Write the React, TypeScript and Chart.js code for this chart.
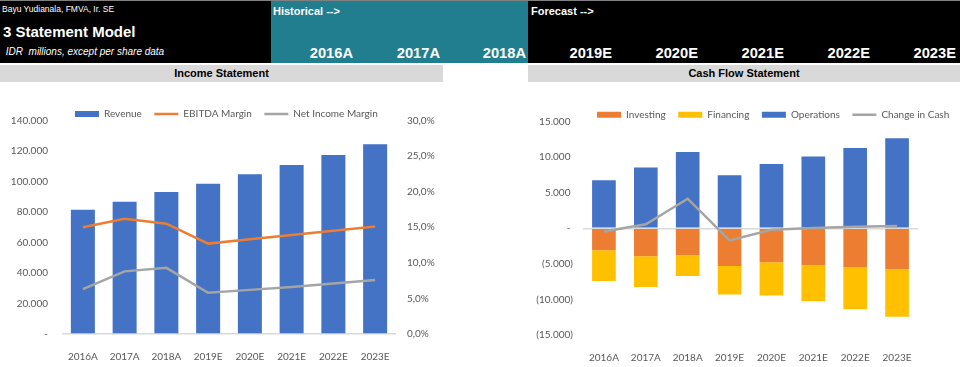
import React, { useEffect, useRef } from 'react';
import { Chart, registerables } from 'chart.js';

Chart.register(...registerables);

const years = ['2016A', '2017A', '2018A', '2019E', '2020E', '2021E', '2022E', '2023E'];

// Income statement
const revenue = [81500, 86700, 93100, 98600, 104700, 110800, 117400, 124400];
const ebitdaMargin = [15.0, 16.2, 15.5, 12.7, 13.3, 13.9, 14.5, 15.1];
const netIncomeMargin = [6.3, 8.8, 9.3, 5.8, 6.2, 6.6, 7.1, 7.6];

// Cash flow statement
const investing = [-3090, -3930, -3790, -5290, -4780, -5200, -5430, -5760];
const financing = [-4310, -4310, -2910, -4030, -4680, -5050, -5950, -6690];
const operations = [6750, 8520, 10720, 7440, 9030, 10070, 11280, 12640];
const changeInCash = [-450, 550, 4150, -1700, -200, 50, 200, 300];

// Tick labels
const revenueTickLabels = ['-', '20.000', '40.000', '60.000', '80.000', '100.000', '120.000', '140.000'];
const marginTickLabels = ['0,0%', '5,0%', '10,0%', '15,0%', '20,0%', '25,0%', '30,0%'];
const cashTickLabels = ['(15.000)', '(10.000)', '(5.000)', '- ', '5.000 ', '10.000 ', '15.000 '];

const BLUE = '#4472C4';
const ORANGE = '#ED7D31';
const GREY = '#A5A5A5';
const GOLD = '#FFC000';
const TEXT = '#595959';
const FONT = 'Lato, "Open Sans", sans-serif';
const LEGEND_FS = 10;

function legendPlacer(boxLeft: number, centerY: number, fs: number) {
  return {
    id: 'legendPlacer',
    afterLayout(chart: any) {
      const lg = chart.legend;
      if (!lg) return;
      const pad = lg.options.labels.padding;
      const h = lg.height;
      lg.left = boxLeft - pad;
      lg.right = chart.width + 200;
      lg.top = centerY - pad - fs / 2;
      lg.bottom = lg.top + h;
    },
  };
}

const zeroGrid = (c: any) => (c.tick && c.tick.value === 0 ? '#D9D9D9' : 'rgba(0,0,0,0)');

const legendOpts = {
  position: 'top' as const,
  align: 'start' as const,
  labels: {
    usePointStyle: true,
    pointStyleWidth: 24,
    boxHeight: 6,
    padding: 12.5,
    color: TEXT,
    font: { family: FONT, size: LEGEND_FS },
    sort: (a: any, b: any) => a.datasetIndex - b.datasetIndex,
  },
};

export default function App() {
  const leftRef = useRef<HTMLCanvasElement>(null);
  const rightRef = useRef<HTMLCanvasElement>(null);

  useEffect(() => {
    const c1 = new Chart(leftRef.current!, {
      type: 'bar',
      data: {
        labels: years,
        datasets: [
          {
            type: 'bar',
            label: 'Revenue',
            data: revenue,
            backgroundColor: BLUE,
            borderWidth: 0,
            pointStyle: 'rect',
            yAxisID: 'y',
            order: 2,
            barPercentage: 0.575,
            categoryPercentage: 1,
          } as any,
          {
            type: 'line',
            label: 'EBITDA Margin',
            data: ebitdaMargin,
            borderColor: ORANGE,
            backgroundColor: ORANGE,
            borderWidth: 2.5,
            pointRadius: 0,
            pointStyle: 'line',
            tension: 0,
            yAxisID: 'y1',
            order: 1,
          } as any,
          {
            type: 'line',
            label: 'Net Income Margin',
            data: netIncomeMargin,
            borderColor: GREY,
            backgroundColor: GREY,
            borderWidth: 2.5,
            pointRadius: 0,
            pointStyle: 'line',
            tension: 0,
            yAxisID: 'y1',
            order: 1,
          } as any,
        ],
      },
      options: {
        responsive: false,
        animation: false,
        devicePixelRatio: 1,
        layout: { padding: 0 },
        plugins: {
          legend: legendOpts as any,
          tooltip: { enabled: false },
        },
        scales: {
          x: {
            grid: { display: false },
            border: { display: false },
            ticks: { color: TEXT, font: { family: FONT, size: 10 }, padding: 9, maxRotation: 0 },
            afterFit: (s: any) => { s.height = 33; },
          },
          y: {
            position: 'left',
            min: 0,
            max: 140000,
            grid: { color: zeroGrid, drawTicks: false, lineWidth: 1.5 },
            border: { display: false },
            ticks: {
              stepSize: 20000,
              color: TEXT,
              font: { family: FONT, size: 10 },
              padding: 14,
              callback: (_v: any, i: number) => revenueTickLabels[i],
            },
            afterFit: (s: any) => { s.width = 62; },
          },
          y1: {
            position: 'right',
            min: 0,
            max: 30,
            grid: { display: false, drawTicks: false },
            border: { display: false },
            ticks: {
              stepSize: 5,
              color: TEXT,
              font: { family: FONT, size: 10 },
              padding: 11,
              callback: (_v: any, i: number) => marginTickLabels[i],
            },
            afterFit: (s: any) => { s.width = 49; },
          },
        },
      } as any,
      plugins: [legendPlacer(75, 114 - 88, LEGEND_FS)],
    });

    const c2 = new Chart(rightRef.current!, {
      type: 'bar',
      data: {
        labels: years,
        datasets: [
          {
            type: 'bar',
            label: 'Investing',
            data: investing,
            backgroundColor: ORANGE,
            borderWidth: 0,
            pointStyle: 'rect',
            stack: 'flows',
            order: 2,
            barPercentage: 0.565,
            categoryPercentage: 1,
          } as any,
          {
            type: 'bar',
            label: 'Financing',
            data: financing,
            backgroundColor: GOLD,
            borderWidth: 0,
            pointStyle: 'rect',
            stack: 'flows',
            order: 2,
            barPercentage: 0.565,
            categoryPercentage: 1,
          } as any,
          {
            type: 'bar',
            label: 'Operations',
            data: operations,
            backgroundColor: BLUE,
            borderWidth: 0,
            pointStyle: 'rect',
            stack: 'flows',
            order: 2,
            barPercentage: 0.565,
            categoryPercentage: 1,
          } as any,
          {
            type: 'line',
            label: 'Change in Cash',
            data: changeInCash,
            borderColor: GREY,
            backgroundColor: GREY,
            borderWidth: 2.5,
            pointRadius: 0,
            pointStyle: 'line',
            tension: 0,
            stack: 'cash',
            order: 1,
          } as any,
        ],
      },
      options: {
        responsive: false,
        animation: false,
        devicePixelRatio: 1,
        layout: { padding: { right: 42 } },
        plugins: {
          legend: legendOpts as any,
          tooltip: { enabled: false },
        },
        scales: {
          x: {
            stacked: true,
            grid: { display: false },
            border: { display: false },
            ticks: { color: TEXT, font: { family: FONT, size: 10 }, padding: 9, maxRotation: 0 },
            afterFit: (s: any) => { s.height = 32; },
          },
          y: {
            stacked: true,
            min: -15000,
            max: 15000,
            grid: { color: zeroGrid, drawTicks: false, lineWidth: 1.5 },
            border: { display: false },
            ticks: {
              stepSize: 5000,
              color: TEXT,
              font: { family: FONT, size: 10 },
              padding: 10,
              callback: (_v: any, i: number) => cashTickLabels[i],
            },
            afterFit: (s: any) => { s.width = 83; },
          },
        },
      } as any,
      plugins: [legendPlacer(597 - 500, 114.7 - 89, LEGEND_FS)],
    });

    return () => {
      c1.destroy();
      c2.destroy();
    };
  }, []);

  const abs = (l: number, t: number, w: number, h: number, extra: React.CSSProperties = {}): React.CSSProperties => ({
    position: 'absolute',
    left: l,
    top: t,
    width: w,
    height: h,
    ...extra,
  });

  const line = (l: number, cy: number, w: number, h: number, extra: React.CSSProperties = {}): React.CSSProperties =>
    abs(l, cy - h / 2, w, h, { lineHeight: `${h}px`, whiteSpace: 'pre', ...extra });

  const yearRight = [353, 440, 526, 612, 698, 784, 870, 956];

  return (
    <div
      style={{
        position: 'absolute',
        left: 0,
        top: 0,
        width: 960,
        height: 367,
        overflow: 'hidden',
        background: '#FFFFFF',
        fontFamily: '"Liberation Sans", Arial, sans-serif',
      }}
    >
      <div style={abs(0, 0, 271, 63, { background: '#000000' })} />
      <div style={abs(271, 0, 257, 63, { background: '#217E8E' })} />
      <div style={abs(528, 0, 432, 63, { background: '#000000' })} />
      <div style={abs(0, 0, 960, 1, { background: '#808080' })} />

      <div style={line(2, 8.5, 200, 12, { color: '#FFFFFF', fontSize: 8.5 })}>Bayu Yudianala, FMVA, Ir. SE</div>
      <div style={line(3, 32, 260, 18, { color: '#FFFFFF', fontSize: 15, fontWeight: 'bold' })}>3 Statement Model</div>
      <div style={line(3, 51.5, 260, 14, { color: '#FFFFFF', fontSize: 10, fontStyle: 'italic' })}> IDR  millions, except per share data</div>

      <div style={line(273, 10.5, 120, 14, { color: '#FFFFFF', fontSize: 11, fontWeight: 'bold' })}>Historical --&gt;</div>
      <div style={line(531, 10.5, 120, 14, { color: '#FFFFFF', fontSize: 11, fontWeight: 'bold' })}>Forecast --&gt;</div>

      {years.map((y, i) => (
        <div
          key={y}
          style={line(yearRight[i] - 80, 53.3, 80, 18, {
            color: '#FFFFFF',
            fontSize: 14.7,
            fontWeight: 'bold',
            textAlign: 'right',
          })}
        >
          {y}
        </div>
      ))}

      <div style={abs(0, 65, 443, 17, { background: '#D9D9D9' })} />
      <div style={abs(528, 65, 432, 17, { background: '#D9D9D9' })} />
      <div style={line(0, 72.5, 443, 16, { color: '#000000', fontSize: 11, fontWeight: 'bold', textAlign: 'center' })}>
        Income Statement
      </div>
      <div style={line(528, 72.5, 432, 16, { color: '#000000', fontSize: 11, fontWeight: 'bold', textAlign: 'center' })}>
        Cash Flow Statement
      </div>

      <canvas ref={leftRef} width={445} height={279} style={abs(0, 88, 445, 279)} />
      <canvas ref={rightRef} width={460} height={278} style={abs(500, 89, 460, 278)} />
    </div>
  );
}
